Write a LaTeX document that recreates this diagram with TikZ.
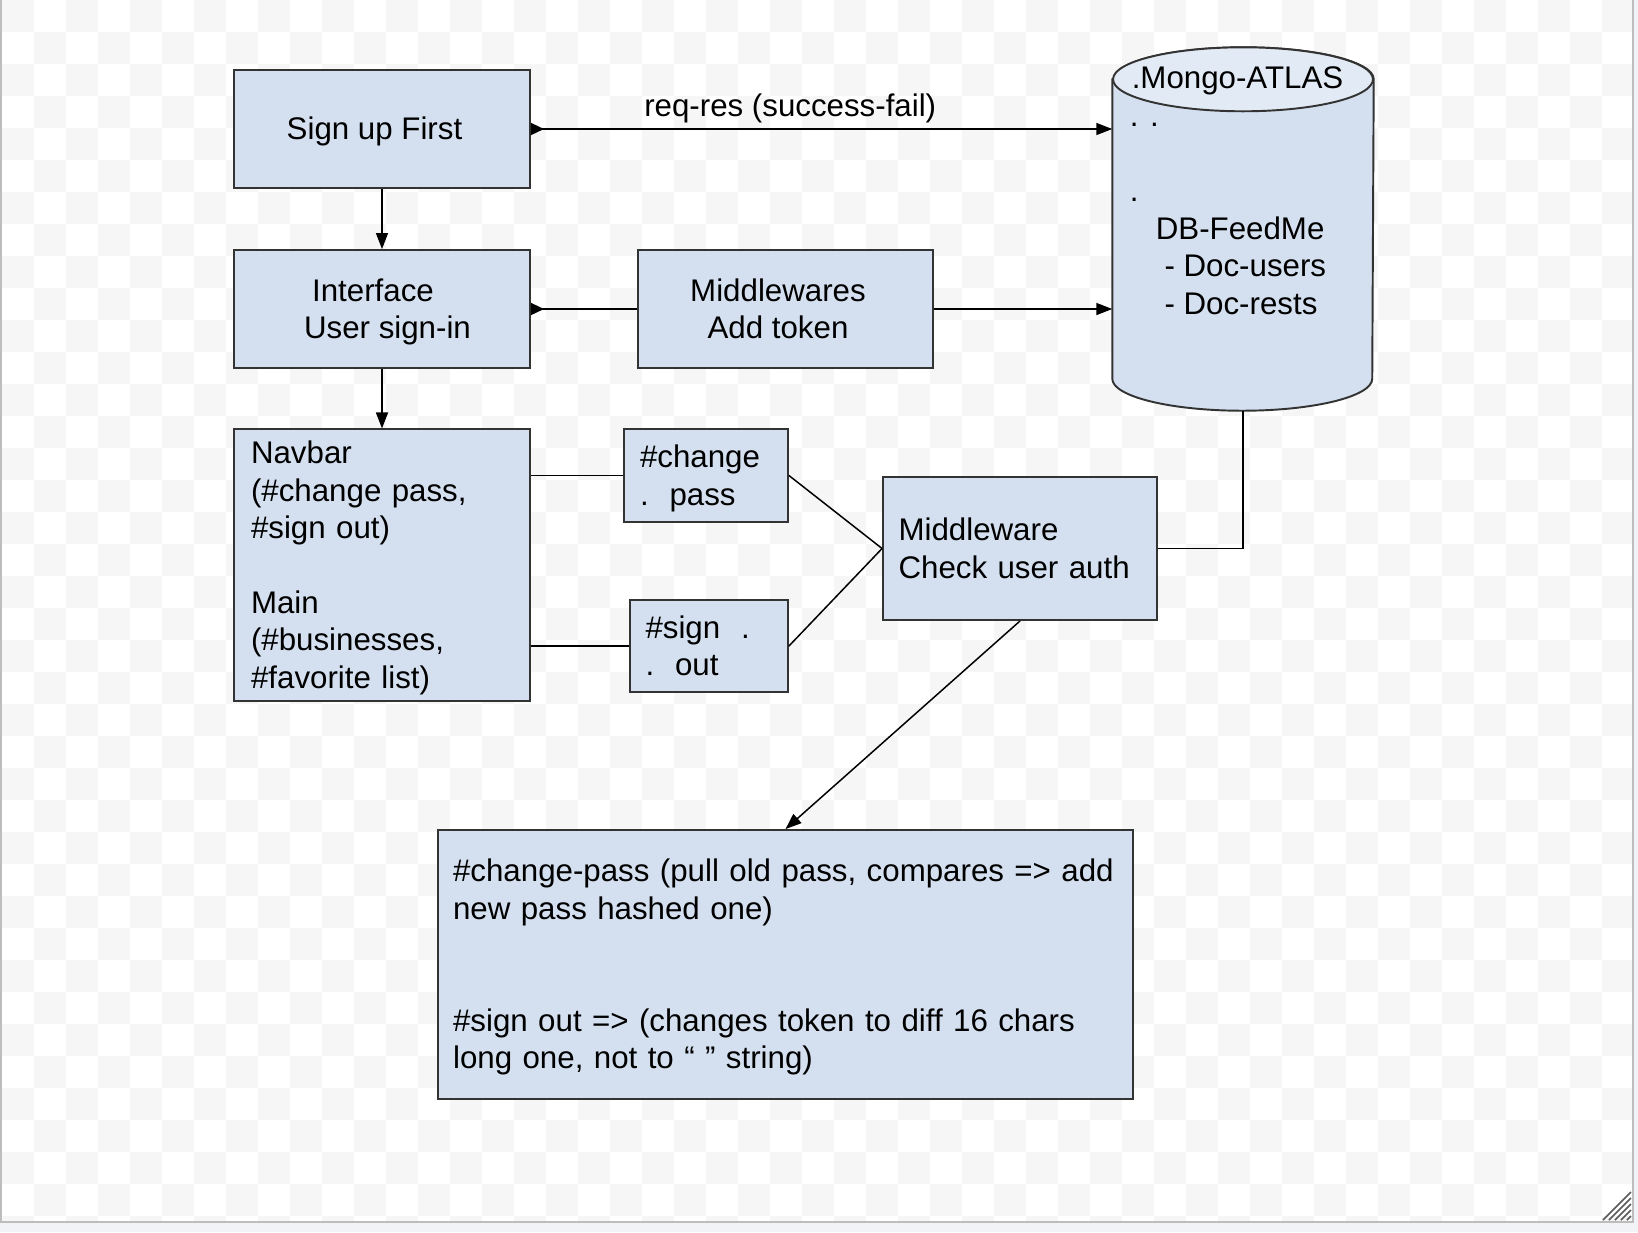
\documentclass[tikz,border=0pt]{standalone}
\usepackage{fontspec}
\setmainfont{Liberation Sans}
\usetikzlibrary{shapes.geometric,arrows.meta,positioning}
\definecolor{boxfill}{HTML}{D4E0EF}
\definecolor{boxtop}{HTML}{E2EAF5}
\definecolor{boxline}{HTML}{333333}
\definecolor{checker}{HTML}{F6F6F6}
\definecolor{outside}{HTML}{F1F3F6}
\definecolor{frameline}{HTML}{BDBDBD}
\tikzset
{
    procbox/.style = {rectangle, draw=boxline, fill=boxfill, line width=1.1pt, align=center, minimum width=5.92cm, minimum height=2.36cm},
    textbox/.style = {rectangle, draw=boxline, fill=boxfill, line width=1.1pt, align=left},
    dbshape/.style = {draw=boxline, line width=1.1pt},
    tailtip/.style = {{Triangle[reversed,length=0.26cm,width=0.24cm]}-},
    every node/.style = {font=\fontsize{17.8}{21.3}\selectfont, text=black}
}
\newcommand{\spw}{\fontdimen2\font}
\newcommand{\lstr}{\rule[-0.212em]{0pt}{1.117em}}

\begin{document}
\begin{tikzpicture}[x=0.02cm, y=-0.02cm, line width=0.85pt, >={Triangle[length=0.32cm,width=0.24cm]}]
%% canvas
\useasboundingbox (0,0) rectangle (1638,1232);
\fill[outside] (0,0) rectangle (1638,1232);
\fill[white] (0,0) rectangle (1633,1222);
\begin{scope}
\clip (2,0) rectangle (1632,1221);
\foreach \r in {0,...,38}
  \foreach \c in {0,...,25}
    \fill[checker] ({2+32*(2*\c+mod(\r,2))},{32*\r}) rectangle ++(32,32);
\end{scope}
\draw[frameline, line width=0.04cm] (1,0) -- (1,1222) -- (1633,1222) -- (1633,0);
\foreach \k in {0,...,4}
  \draw[black!65, line width=0.03cm] ({1603+6*\k},1220) -- (1631,{1192+6*\k});

%% boxes
\node (signup)  [procbox]                         at (382,129)   {\lstr Sign up First\hspace*{0.3cm}};
\node (iface)   [procbox]                         at (382,309)   {\lstr Interface\hspace*{0.36cm}\\\lstr\hspace*{0.22cm}User sign-in};
\node (mwtoken) [procbox, minimum width=5.9cm]    at (785.5,309) {\lstr Middlewares\hspace*{0.3cm}\\\lstr Add token\hspace*{0.3cm}};
\node (navbar)  [textbox, text width=5.24cm, inner xsep=0.34cm, minimum height=5.4cm] at (382,565)
    {\lstr Navbar\\(\#change pass,\\\#sign out)\\[21.3pt]Main\\(\#businesses,\\\lstr\#favorite list)};
\node (chpass)  [textbox, text width=2.64cm, inner xsep=0.32cm, minimum height=1.86cm] at (706,475.5) {\lstr\#change\\\lstr.~~pass};
\node (signout) [textbox, text width=2.54cm, inner xsep=0.31cm, minimum height=1.84cm] at (709,646)   {\lstr\#sign~~.\\\lstr.~~out};
\node (mwauth)  [textbox, text width=4.86cm, inner xsep=0.31cm, minimum height=2.86cm] at (1020,548.5) {\lstr Middleware\\\lstr Check user auth};
\node (result)  [textbox, text width=13.3cm, inner xsep=0.3cm, minimum height=5.38cm] at (785.5,964.5)
    {\lstr\#change-pass (pull old pass, compares => add\\new pass hashed one)\\[42.6pt]\#sign out => (changes token to diff 16 chars\\\lstr long one, not to “ ” string)};

%% database
\node (db) [minimum width=5.2cm, minimum height=7.24cm, inner sep=0pt] at (1243,229) {};
\filldraw[dbshape, fill=boxfill] ([yshift=-0.64cm]db.north west) -- ([yshift=0.64cm]db.south west)
    arc[start angle=180, end angle=360, x radius=2.6cm, y radius=0.64cm] -- ([yshift=-0.64cm]db.north east)
    arc[start angle=0, end angle=180, x radius=2.6cm, y radius=0.64cm] -- cycle;
\filldraw[dbshape, fill=boxtop] ([yshift=-0.64cm]db.north) ellipse[x radius=2.6cm, y radius=0.64cm];
\node (dbtitle) [anchor=base] at (1237.5,88) {.Mongo-ATLAS};
\node (dbtext)  [align=left, anchor=north west, inner sep=0pt] at (1129,100)
    {\strut. .\\[21.3pt].\\\hspace*{3\spw}DB-FeedMe\\\hspace*{4\spw}- Doc-users\\\hspace*{4\spw}- Doc-rests};

%% connectors
\path
(signup)       edge[->] (iface)
(iface)        edge[->] (navbar)
(chpass.east)  edge     (mwauth.west)
(signout.east) edge     (mwauth.west)
(mwauth.south) edge[->] (result.north);
\draw[tailtip] (iface.east) -- (mwtoken.west);
\draw (chpass.west) -- (chpass.west -| navbar.east);
\draw (signout.west) -- (signout.west -| navbar.east);
\draw[{Triangle[reversed,length=0.26cm,width=0.24cm]}->] (signup.east) -- node[pos=0.446, above, inner sep=0.11cm] (reqres) {req-res (success-fail)} (signup.east -| db.west);
\draw[->] (mwtoken.east) -- (mwtoken.east -| db.west);
\draw (mwauth.east) -| (db.south);
\end{tikzpicture}
\end{document}
